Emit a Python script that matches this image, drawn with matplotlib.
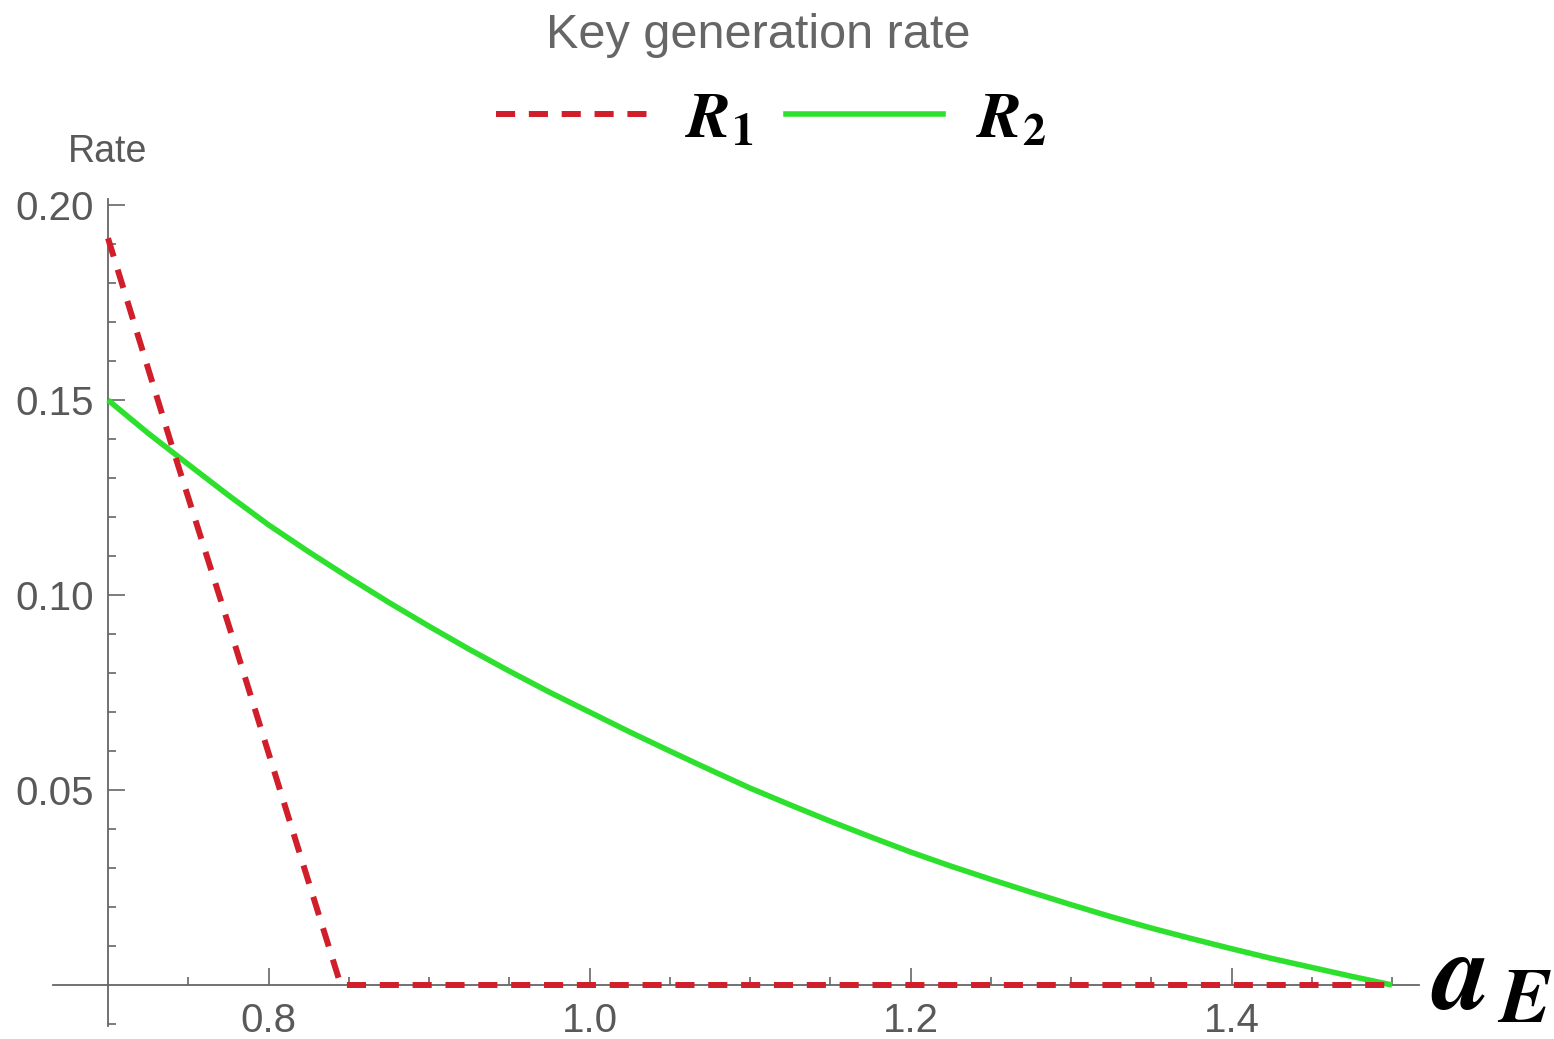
import matplotlib
matplotlib.use("Agg")
import matplotlib.pyplot as plt
from matplotlib.lines import Line2D
from matplotlib.ticker import FixedLocator

# texto matemático em estilo Times (STIX) e o resto em sans
plt.rcParams['mathtext.fontset'] = 'stix'
plt.rcParams['font.family'] = ['Liberation Sans', 'DejaVu Sans']

# dados
a_r1 = [0.70, 0.74, 0.78, 0.82, 0.845, 1.50]
rate_r1 = [0.1915, 0.138, 0.086, 0.033, 0.0, 0.0]

a_r2 = [0.700, 0.725, 0.750, 0.775, 0.800, 0.825, 0.850, 0.875, 0.900,
        0.925, 0.950, 0.975, 1.000, 1.025, 1.050, 1.075, 1.100, 1.125,
        1.150, 1.175, 1.200, 1.225, 1.250, 1.275, 1.300, 1.325, 1.350,
        1.375, 1.400, 1.425, 1.450, 1.475, 1.500]
rate_r2 = [0.1500, 0.1415, 0.1335, 0.1256, 0.1180, 0.1111, 0.1045, 0.0981, 0.0920,
           0.0861, 0.0805, 0.0751, 0.0700, 0.0649, 0.0600, 0.0552, 0.0505, 0.0462,
           0.0420, 0.0380, 0.0341, 0.0305, 0.0271, 0.0238, 0.0206, 0.0175, 0.0146,
           0.0119, 0.0093, 0.0068, 0.0045, 0.0022, 0.0]

x_major = [0.8, 1.0, 1.2, 1.4]
x_minor = [0.75, 0.85, 0.9, 0.95, 1.05, 1.1, 1.15, 1.25, 1.3, 1.35, 1.45, 1.5]
y_major = [0.05, 0.10, 0.15, 0.20]
y_labels = ['0.05', '0.10', '0.15', '0.20']
y_minor = [-0.01] + [i / 100 for i in range(1, 20) if i % 5 != 0]

cor_r1 = '#d01f2a'
cor_r2 = '#2ee02e'
cinza = '#666666'

fig = plt.figure(figsize=(15.54, 10.39), dpi=100)
ax = fig.add_axes([0, 0, 1, 1])
ax.set_xlim(0.6327, 1.6009)
ax.set_ylim(-0.01385, 0.2526)

ax.plot(a_r2, rate_r2, color=cor_r2, lw=4.0, solid_capstyle='butt', zorder=3)
ax.plot(a_r1, rate_r1, color=cor_r1, lw=4.3, dashes=(3.2, 2.3), zorder=4)

# eixos no estilo Mathematica
for lado in ['top', 'right']:
    ax.spines[lado].set_visible(False)
ax.spines['left'].set_position(('data', 0.7))
ax.spines['left'].set_bounds(-0.0105, 0.2015)
ax.spines['bottom'].set_position(('data', 0.0))
ax.spines['bottom'].set_bounds(0.666, 1.517)
for lado in ['left', 'bottom']:
    ax.spines[lado].set_color(cinza)
    ax.spines[lado].set_linewidth(1.3)
    ax.spines[lado].set_zorder(2)

ax.xaxis.set_major_locator(FixedLocator(x_major))
ax.xaxis.set_minor_locator(FixedLocator(x_minor))
ax.set_xticklabels([f'{v:.1f}' for v in x_major])
ax.yaxis.set_major_locator(FixedLocator(y_major))
ax.yaxis.set_minor_locator(FixedLocator(y_minor))
ax.set_yticklabels(y_labels)

ax.tick_params(which='both', direction='in', color=cinza, width=1.2,
               labelcolor='#595959', labelsize=29)
ax.tick_params(which='major', length=12)
ax.tick_params(which='minor', length=6)
ax.tick_params(axis='x', which='major', pad=12)
ax.tick_params(axis='y', which='major', pad=10)

ax.text(0.7, 0.2136, 'Rate', ha='center', va='center', fontsize=27, color='#595959')
ax.text(1.562, 0.0015, r'$\mathbfit{a}_{\,\mathbfit{E}}$', ha='center', va='center',
        fontsize=80, color='black')

fig.text(758 / 1554, 1 - 35 / 1039, 'Key generation rate', ha='center', va='center',
         fontsize=35, color='#666666')

alcas = [Line2D([], [], color=cor_r1, lw=4.3, dashes=(3.2, 2.3)),
         Line2D([], [], color=cor_r2, lw=4.0)]
fig.legend(alcas, [r'$\mathbfit{R}_{\mathbf{1}}$', r'$\mathbfit{R}_{\mathbf{2}}$'],
           loc='center', bbox_to_anchor=(771 / 1554, 1 - 120 / 1039), ncol=2,
           frameon=False, fontsize=47, handlelength=2.4, handletextpad=0.5,
           columnspacing=0.5, borderpad=0)

fig.savefig('out.png', dpi=100, facecolor='white')
